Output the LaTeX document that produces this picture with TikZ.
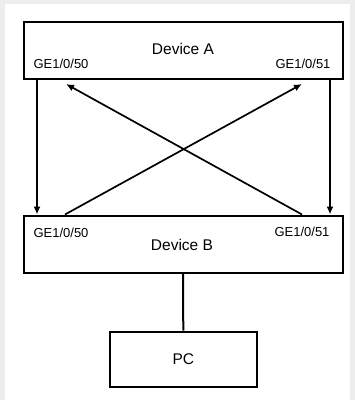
\documentclass[tikz,border=0pt]{standalone}
\usepackage{fontspec}
\setmainfont{Liberation Sans}
\usetikzlibrary{arrows.meta}
\begin{document}
\begin{tikzpicture}[x=1pt,y=-1pt,
  box/.style={draw, line width=2pt, rectangle, inner sep=0pt},
  port/.style={inner sep=0pt, font=\fontsize{13}{15}\selectfont},
  link/.style={line width=1.7pt, -{Latex[length=8pt,width=7pt]}},
  wire/.style={line width=2pt}]
\useasboundingbox (0,0) rectangle (355,400);
\fill[black!7] (0,0) rectangle (355,400);
\fill[white] (4.7,4.2) rectangle (350,400);
% boxes
\node[box, minimum width=319pt, minimum height=57.2pt] (A) at (183,50.1) {};
\node[font=\fontsize{15.5}{17}\selectfont, inner sep=0pt] (At) at (183,49) {Device A};
\node[box, minimum width=319pt, minimum height=57.5pt] (B) at (183,244.3) {};
\node[font=\fontsize{15.5}{17}\selectfont, inner sep=0pt] (Bt) at (182,245) {Device B};
\node[box, minimum width=146.7pt, minimum height=55.6pt, font=\fontsize{15.5}{17}\selectfont] (PC) at (183.3,359.5) {PC};
% port labels
\node[port] (pa50) at (61,64) {GE1/0/50};
\node[port] (pa51) at (303,64) {GE1/0/51};
\node[port] (pb50) at (61,233) {GE1/0/50};
\node[port] (pb51) at (302,232) {GE1/0/51};
% connection points
\coordinate (a50) at (37,79.7);
\coordinate (a51) at (330,79.7);
\coordinate (b50) at (37,214.5);
\coordinate (b51) at (330,214.5);
\coordinate (bx50) at (65,214.5);
\coordinate (bx51) at (302,214.5);
\coordinate (ax50) at (66,84);
\coordinate (ax51) at (302,84);
\draw[link] (a50) -- (b50);
\draw[link] (a51) -- (b51);
\draw[link] (bx50) -- (ax51);
\draw[link] (bx51) -- (ax50);
\draw[wire] (B.south) -- (PC.north);
\end{tikzpicture}
\end{document}
